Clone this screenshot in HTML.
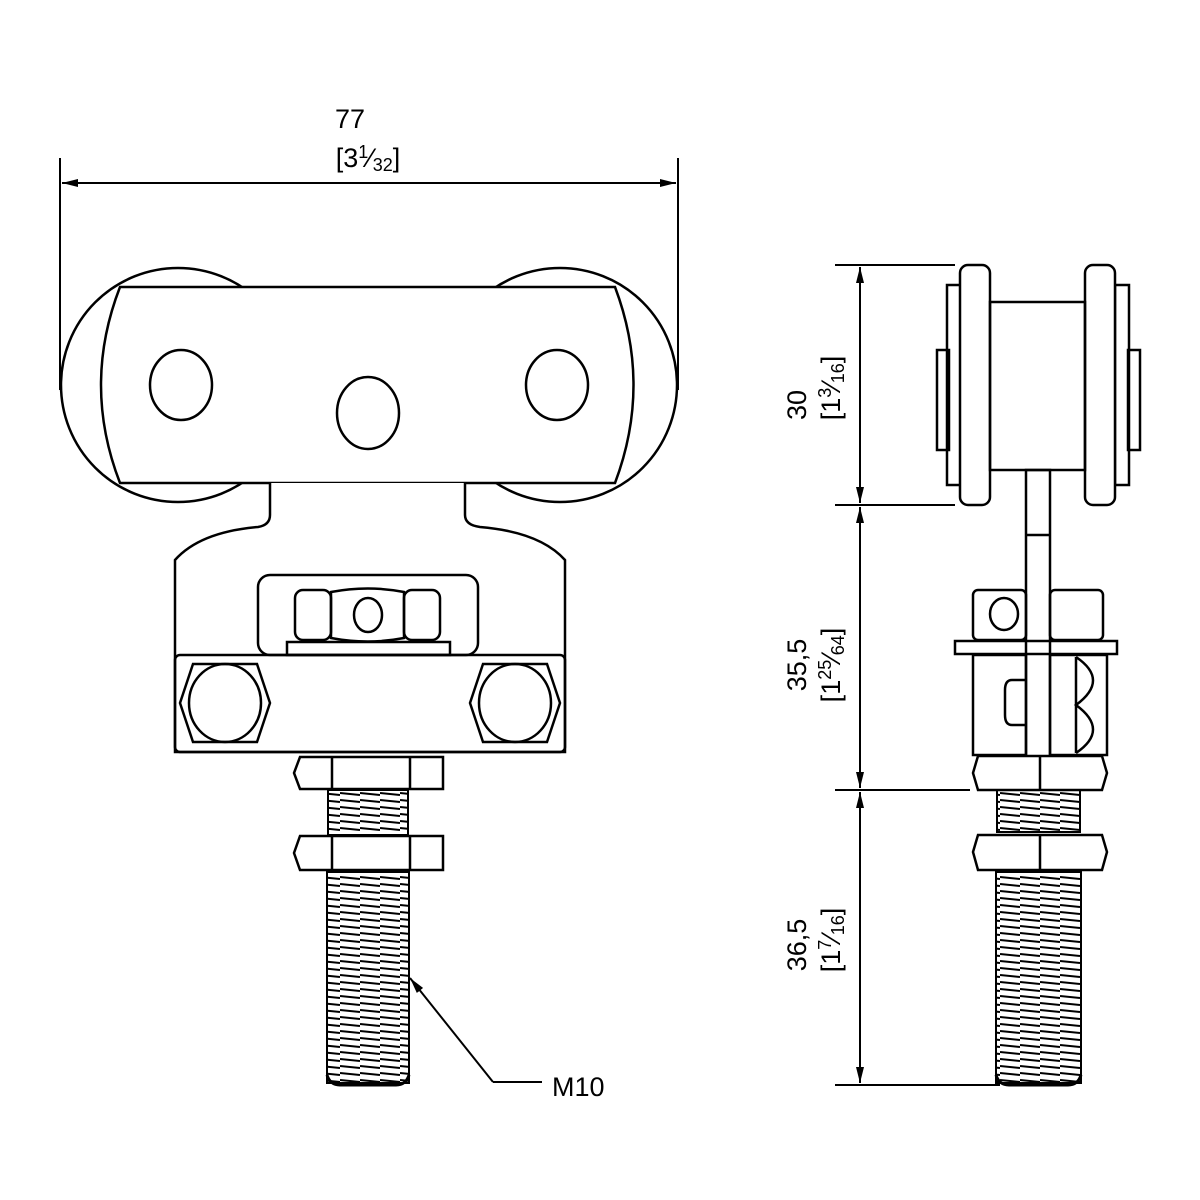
<!DOCTYPE html>
<html><head><meta charset="utf-8"><style>body{margin:0;background:#fff}svg{display:block}text{font-family:"Liberation Sans",sans-serif;fill:#000}</style></head><body>
<svg width="1200" height="1200" viewBox="0 0 1200 1200" xmlns="http://www.w3.org/2000/svg">
<defs>
<marker id="a" viewBox="0 0 16 8" refX="16" refY="4" markerWidth="16" markerHeight="8" markerUnits="userSpaceOnUse" orient="auto-start-reverse"><path d="M0,0 L16,4 L0,8z" fill="#000"/></marker>
<pattern id="th" width="20" height="7" patternUnits="userSpaceOnUse"><line x1="0" y1="2" x2="20" y2="4" stroke="#000" stroke-width="2"/></pattern>
</defs>
<g fill="none" stroke="#000" stroke-width="2.5">
<line x1="60" y1="158" x2="60" y2="390" stroke-width="2"/>
<line x1="678" y1="158" x2="678" y2="390" stroke-width="2"/>
<line x1="62" y1="183" x2="676" y2="183" stroke-width="2" marker-start="url(#a)" marker-end="url(#a)"/>
<circle cx="178" cy="385" r="117" fill="#fff"/>
<circle cx="560" cy="385" r="117" fill="#fff"/>
<path d="M120,287 L615,287 Q652,385 615,483 L120,483 Q82,385 120,287Z" fill="#fff"/>
<ellipse cx="181" cy="385" rx="31" ry="35"/>
<ellipse cx="368" cy="413" rx="31" ry="36"/>
<ellipse cx="557" cy="385" rx="31" ry="35"/>
<path d="M270,483 L270,515 Q270,525 258,527 Q200,532 175,560 L175,752 L565,752 L565,560 Q540,532 480,527 Q465,525 465,515 L465,483" fill="#fff"/>
<rect x="258" y="575" width="220" height="80" rx="12"/>
<rect x="295" y="590" width="36" height="50" rx="8"/>
<rect x="404" y="590" width="36" height="50" rx="8"/>
<path d="M331,592 Q368,585 404,592 L404,638 Q368,645 331,638Z"/>
<ellipse cx="368" cy="615" rx="14" ry="17"/>
<rect x="287" y="642" width="163" height="13"/>
<rect x="175" y="655" width="390" height="97" rx="5"/>
<path d="M193,664 L257,664 L270,703 L257,742 L193,742 L180,703Z"/>
<ellipse cx="225" cy="703" rx="36" ry="39"/>
<path d="M483,664 L547,664 L560,703 L547,742 L483,742 L470,703Z"/>
<ellipse cx="515" cy="703" rx="36" ry="39"/>
<rect x="328" y="790" width="80" height="45" fill="url(#th)" stroke-width="2"/>
<rect x="327" y="872" width="82" height="211" fill="url(#th)" stroke-width="2"/>
<path d="M327,1075 Q330,1085 340,1085 L396,1085 Q406,1085 409,1075" stroke-width="3"/>
<path d="M300,757 L443,757 L443,789 L300,789 L294,773Z M332,757 L332,789 M410,757 L410,789" fill="#fff"/>
<path d="M300,836 L443,836 L443,870 L300,870 L294,853Z M332,836 L332,870 M410,836 L410,870" fill="#fff"/>
<line x1="493" y1="1082" x2="542" y2="1082" stroke-width="2"/>
<line x1="493" y1="1082" x2="410" y2="978" stroke-width="2" marker-end="url(#a)"/>
<line x1="835" y1="265" x2="955" y2="265" stroke-width="2"/>
<line x1="835" y1="505" x2="955" y2="505" stroke-width="2"/>
<line x1="835" y1="790" x2="970" y2="790" stroke-width="2"/>
<line x1="835" y1="1085" x2="1000" y2="1085" stroke-width="2"/>
<line x1="860" y1="267" x2="860" y2="503" stroke-width="2" marker-start="url(#a)" marker-end="url(#a)"/>
<line x1="860" y1="507" x2="860" y2="788" stroke-width="2" marker-start="url(#a)" marker-end="url(#a)"/>
<line x1="860" y1="792" x2="860" y2="1083" stroke-width="2" marker-start="url(#a)" marker-end="url(#a)"/>
<rect x="937" y="350" width="12" height="100"/>
<rect x="947" y="285" width="14" height="200"/>
<rect x="960" y="265" width="30" height="240" rx="8" fill="#fff"/>
<rect x="1128" y="350" width="12" height="100"/>
<rect x="1115" y="285" width="14" height="200"/>
<rect x="1085" y="265" width="30" height="240" rx="8" fill="#fff"/>
<rect x="990" y="302" width="95" height="168"/>
<rect x="1026" y="470" width="24" height="290" stroke-width="2.5"/>
<line x1="1026" y1="535" x2="1050" y2="535"/>
<rect x="973" y="590" width="53" height="50" rx="5"/>
<rect x="1050" y="590" width="53" height="50" rx="5"/>
<ellipse cx="1004" cy="614" rx="14" ry="16"/>
<rect x="955" y="641" width="162" height="13"/>
<rect x="973" y="655" width="53" height="100"/>
<path d="M1026,680 L1012,680 Q1005,680 1005,690 L1005,715 Q1005,725 1012,725 L1026,725"/>
<rect x="1050" y="655" width="57" height="100"/>
<path d="M1076,657 L1076,753 M1076,657 Q1110,680 1076,705 Q1110,730 1076,753"/>
<rect x="997" y="790" width="83" height="42" fill="url(#th)" stroke-width="2"/>
<rect x="996" y="872" width="85" height="211" fill="url(#th)" stroke-width="2"/>
<path d="M996,1075 Q999,1085 1009,1085 L1068,1085 Q1078,1085 1081,1075" stroke-width="3"/>
<path d="M978,756 L1102,756 L1107,773 L1102,790 L978,790 L973,773Z M1040,756 L1040,790" fill="#fff"/>
<path d="M978,835 L1102,835 L1107,852 L1102,870 L978,870 L973,852Z M1040,835 L1040,870" fill="#fff"/>
</g>
<text x="350" y="128" font-size="27" text-anchor="middle">77</text>
<text x="368" y="167" font-size="27" text-anchor="middle">[3<tspan font-size="18" dy="-9">1</tspan><tspan dy="9">⁄</tspan><tspan font-size="18" dy="4">32</tspan><tspan dy="-4">]</tspan></text>
<text x="552" y="1096" font-size="27">M10</text>
<g font-size="27">
<text transform="translate(806,405) rotate(-90)" text-anchor="middle">30</text>
<text transform="translate(840,388) rotate(-90)" text-anchor="middle">[1<tspan font-size="18" dy="-9">3</tspan><tspan dy="9">⁄</tspan><tspan font-size="18" dy="4">16</tspan><tspan dy="-4">]</tspan></text>
<text transform="translate(806,665) rotate(-90)" text-anchor="middle">35,5</text>
<text transform="translate(840,665) rotate(-90)" text-anchor="middle">[1<tspan font-size="18" dy="-9">25</tspan><tspan dy="9">⁄</tspan><tspan font-size="18" dy="4">64</tspan><tspan dy="-4">]</tspan></text>
<text transform="translate(806,945) rotate(-90)" text-anchor="middle">36,5</text>
<text transform="translate(840,940) rotate(-90)" text-anchor="middle">[1<tspan font-size="18" dy="-9">7</tspan><tspan dy="9">⁄</tspan><tspan font-size="18" dy="4">16</tspan><tspan dy="-4">]</tspan></text>
</g>
</svg>
</body></html>
